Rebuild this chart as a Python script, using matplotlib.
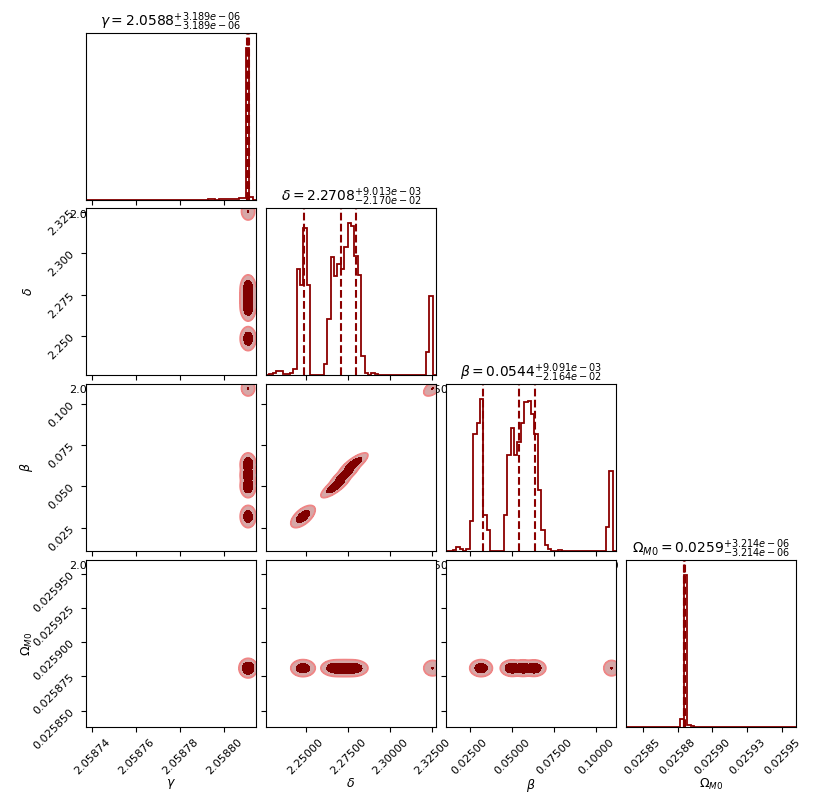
import matplotlib
matplotlib.use("Agg")
import matplotlib.pyplot as plt
import numpy as np

# parameter names, titles and axis ranges
labels = [r"$\gamma$", r"$\delta$", r"$\beta$", r"$\Omega_{M0}$"]
titles = [r"$\gamma = 2.0588_{-3.189e-06}^{+3.189e-06}$",
          r"$\delta = 2.2708_{-2.170e-02}^{+9.013e-03}$",
          r"$\beta = 0.0544_{-2.164e-02}^{+9.091e-03}$",
          r"$\Omega_{M0} = 0.0259_{-3.214e-06}^{+3.214e-06}$"]
limits = [(2.0587371, 2.0588146), (2.2266, 2.3272), (0.0110, 0.1118), (0.025838, 0.025960)]

ticks = [[2.05874, 2.05876, 2.05878, 2.05880],
         [2.25, 2.275, 2.30, 2.325],
         [0.025, 0.05, 0.075, 0.10],
         [0.02585, 0.025875, 0.0259, 0.025925, 0.02595]]
xtick_labels = [["2.05874", "2.05876", "2.05878", "2.05880"],
                ["2.25000", "2.27500", "2.30000", "2.32500"],
                ["0.02500", "0.05000", "0.07500", "0.10000"],
                ["0.02585", "0.02588", "0.02590", "0.02593", "0.02595"]]
ytick_labels = [["2.05874", "2.05876", "2.05878", "2.05880"],
                ["2.250", "2.275", "2.300", "2.325"],
                ["0.025", "0.050", "0.075", "0.100"],
                ["0.025850", "0.025875", "0.025900", "0.025925", "0.025950"]]

# 1D histogram counts (50 bins over each axis range)
gamma_counts = [0, 0, 0, 0, 0, 0, 0, 0, 0, 0,
                0, 0, 0, 0, 0, 0, 0, 0, 0, 0,
                0, 0, 0, 0, 0.3, 0.3, 0, 0, 0, 0,
                0, 0, 0, 0.2, 0.3, 0.3, 0.4, 0.4, 0.3, 0.4,
                0.4, 0.5, 0.5, 0.6, 0.8, 1.0, 1.2, 100, 2.2, 0]
delta_counts = [0, 0.5, 1, 2.5, 2.5, 0.5, 0.5, 1, 4, 69.5,
                59.6, 97, 59.6, 0, 0, 0.3, 0, 7.5, 37, 78,
                65, 73, 70, 84, 100, 98, 78.5, 66, 12.5, 1.5,
                0.3, 1, 0.5, 0, 0.3, 0, 0, 0, 0, 0,
                0, 0, 0, 0, 0, 0, 0, 15, 52, 0]
beta_counts = [0, 0.3, 0.5, 2.5, 1, 0.3, 1, 20, 77, 84.5,
               100, 23.5, 13.6, 0, 0, 0.3, 0, 23.5, 63, 80.7,
               63, 71.5, 84, 98, 99, 90, 76.8, 40, 13.6, 3.7,
               1, 0.3, 0, 0.5, 0, 0, 0, 0, 0, 0,
               0, 0, 0, 0, 0, 0, 0, 16, 53, 0]
omega_counts = [0, 0, 0, 0, 0, 0, 0, 0, 0, 0,
                0, 0, 0, 0, 0, 0, 5.3, 100, 1.0, 0.6,
                0.3, 0.2, 0.2, 0.2, 0.2, 0.2, 0.1, 0.1, 0.1, 0.1,
                0, 0, 0, 0, 0, 0, 0, 0, 0, 0,
                0, 0, 0, 0, 0, 0, 0, 0, 0, 0]
counts = [gamma_counts, delta_counts, beta_counts, omega_counts]

# 16/50/84 percent lines
gamma_q = [2.0588106, 2.0588110, 2.0588114]
delta_q = [2.2491, 2.2708, 2.27981]
beta_q = [0.03276, 0.0544, 0.06349]
omega_q = [0.0258796, 0.0258798, 0.0258800]
quantiles = [gamma_q, delta_q, beta_q, omega_q]

# posterior blobs for the 2D panels: centres, outer half widths, core ratio
blob_gamma = [2.058811, 2.058811, 2.058811, 2.058811, 2.058811]
blob_delta = [2.2485, 2.2678, 2.2730, 2.2782, 2.3252]
blob_beta = [0.0318, 0.0502, 0.0567, 0.0632, 0.1092]
blob_omega = [0.025881, 0.025881, 0.025881, 0.025881, 0.025881]
half_gamma = [3.6e-6, 3.6e-6, 3.6e-6, 3.6e-6, 3.0e-6]
half_delta = [0.0072, 0.0087, 0.0087, 0.0087, 0.0052]
half_beta = [0.0067, 0.0070, 0.0070, 0.0070, 0.0046]
half_omega = [6.2e-6, 6.0e-6, 6.0e-6, 6.0e-6, 5.6e-6]
rho_delta_beta = [0.6, 0.8, 0.8, 0.8, 0.5]
core_ratio = [0.55, 0.6, 0.6, 0.6, 0.12]

centres = [blob_gamma, blob_delta, blob_beta, blob_omega]
halves = [half_gamma, half_delta, half_beta, half_omega]

hist_color = "darkred"
fill_outer = "#d6a7a7"
line_outer = "#f08585"
fill_core = "#800000"

W, H = 831, 811
lefts = [86, 266, 446, 626]
tops = [33, 208, 384, 560]
aw, ah = 170, 167

fig = plt.figure(figsize=(W / 100, H / 100), dpi=100)

n = 4
for i in range(n):
    for j in range(i + 1):
        ax = fig.add_axes([lefts[j] / W, 1 - (tops[i] + ah) / H, aw / W, ah / H])
        ax.tick_params(labelsize=8)
        if i == j:
            lo, hi = limits[i]
            edges = np.linspace(lo, hi, len(counts[i]) + 1)
            ax.stairs(counts[i], edges, color=hist_color, lw=1.3)
            for q in quantiles[i]:
                ax.axvline(q, ls="dashed", color=hist_color, lw=1.5)
            ax.set_xlim(lo, hi)
            ax.set_ylim(0, 1.1 * max(counts[i]))
            ax.set_yticks([])
            ax.set_title(titles[i], fontsize=10, pad=3)
        else:
            xlo, xhi = limits[j]
            ylo, yhi = limits[i]
            gx = np.linspace(xlo, xhi, 340)
            gy = np.linspace(ylo, yhi, 340)
            X, Y = np.meshgrid(gx, gy)
            acc = np.zeros(X.shape)
            for k in range(len(blob_delta)):
                dx = (X - centres[j][k]) / halves[j][k]
                dy = (Y - centres[i][k]) / halves[i][k]
                rho = rho_delta_beta[k] if (j, i) == (1, 2) else 0.0
                d = np.sqrt((dx ** 2 - 2 * rho * dx * dy + dy ** 2) / (1 - rho ** 2))
                f = 1 + (1 - d) / (1 - core_ratio[k])
                acc += np.exp(4.0 * np.clip(f, -5, 5))
            field = np.log(acc) / 4.0
            ax.contourf(X, Y, field, levels=[1, 2, 1e9], colors=[fill_outer, fill_core])
            ax.contour(X, Y, field, levels=[1], colors=[line_outer], linewidths=1.3)
            ax.set_xlim(xlo, xhi)
            ax.set_ylim(ylo, yhi)
            ax.set_yticks(ticks[i])
            if j == 0:
                ax.set_yticklabels(ytick_labels[i], rotation=45)
                ax.set_ylabel(labels[i], fontsize=9)
                ax.yaxis.set_label_coords(-0.3, 0.5)
            else:
                ax.set_yticklabels([])
        ax.set_xticks(ticks[j])
        if i == n - 1:
            ax.set_xticklabels(xtick_labels[j], rotation=45)
            ax.set_xlabel(labels[j], fontsize=9)
            ax.xaxis.set_label_coords(0.5, -0.3)
        else:
            ax.set_xticklabels(xtick_labels[j])

fig.savefig("out.png", dpi=100)
